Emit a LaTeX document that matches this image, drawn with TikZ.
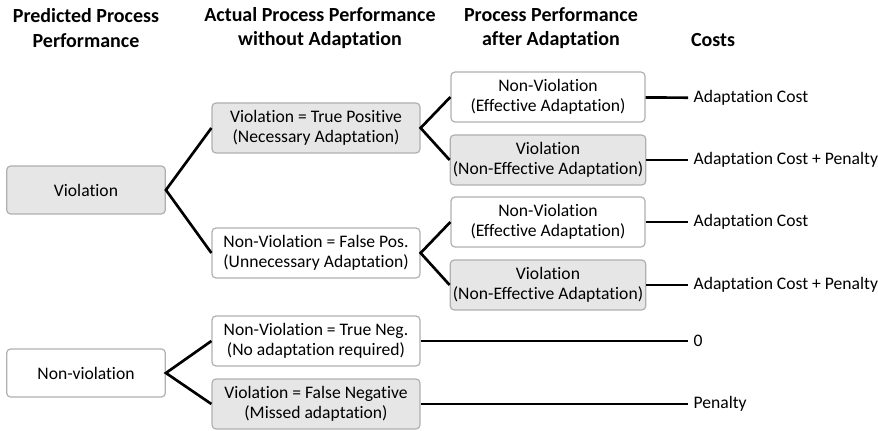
\documentclass[tikz,border=0pt]{standalone}
\usepackage{fontspec}
\setmainfont{Carlito}[Ligatures=NoCommon]
\usetikzlibrary{positioning}

\definecolor{boxgray}{HTML}{E6E6E6}
\definecolor{boxline}{HTML}{B0B0B0}

\begin{document}
\begin{tikzpicture}[
    x=0.75pt, y=-0.75pt,
    every node/.style={font=\fontsize{13.2}{14.6}\selectfont},
    outcome/.style={draw=boxline, line width=0.9pt, rounded corners=3pt,
      align=center, inner sep=2pt},
    violated/.style={outcome, fill=boxgray},
    kept/.style={outcome, fill=white},
    predbox/.style={minimum width=119pt, minimum height=36pt},
    actbox/.style={minimum width=156pt, minimum height=37.5pt},
    adaptbox/.style={minimum width=145.5pt, minimum height=37.5pt},
    heading/.style={font=\bfseries\fontsize{15}{18.5}\selectfont, align=center},
    cost/.style={anchor=west, inner xsep=4pt, inner ysep=0pt},
    branch/.style={line width=2pt},
  ]
  \useasboundingbox (0,0) rectangle (878,431);

  % column headings
  \node[heading] (hpred)  at (86,28)  {Predicted Process\\Performance};
  \node[heading] (hactual) at (320,28) {Actual Process Performance\\without Adaptation};
  \node[heading] (hafter) at (551,28) {Process Performance\\after Adaptation};
  \node[heading] (hcost)  at (713,40) {Costs};

  % predicted outcome
  \node[violated, predbox] (pviol) at (86,190) {Violation};
  \node[kept, predbox]     (pok)   at (86,373) {Non-violation};

  % actual outcome without adaptation
  \node[violated, actbox] (tp) at (316,128) {Violation = True Positive\\(Necessary Adaptation)};
  \node[kept, actbox]     (fp) at (316,253) {Non-Violation = False Pos.\\(Unnecessary Adaptation)};
  \node[kept, actbox]     (tn) at (316,341) {Non-Violation = True Neg.\\(No adaptation required)};
  \node[violated, actbox] (fn) at (316,404) {Violation = False Negative\\(Missed adaptation)};

  % outcome after adaptation
  \node[kept, adaptbox]     (tpok)   at (548,97)  {Non-Violation\\(Effective Adaptation)};
  \node[violated, adaptbox] (tpviol) at (548,160) {Violation\\(Non-Effective Adaptation)};
  \node[kept, adaptbox]     (fpok)   at (548,222) {Non-Violation\\(Effective Adaptation)};
  \node[violated, adaptbox] (fpviol) at (548,285) {Violation\\(Non-Effective Adaptation)};

  % costs
  \node[cost] (ctpok)   at (688,98)  {Adaptation Cost};
  \node[cost] (ctpviol) at (688,160) {Adaptation Cost + Penalty};
  \node[cost] (cfpok)   at (688,222) {Adaptation Cost};
  \node[cost] (cfpviol) at (688,285) {Adaptation Cost + Penalty};
  \node[cost] (ctn)     at (688,341) {0};
  \node[cost] (cfn)     at (688,404) {Penalty};

  % branches
  \draw[branch] (tp.west) -- (pviol.east) -- (fp.west);
  \draw[branch] (tn.west) -- (pok.east) -- (fn.west);
  \draw[branch] (tpok.west) -- (tp.east) -- (tpviol.west);
  \draw[branch] (fpok.west) -- (fp.east) -- (fpviol.west);

  \draw[branch] (tpok) -- (ctpok);
  \draw[branch] (tpviol) -- (ctpviol);
  \draw[branch] (fpok) -- (cfpok);
  \draw[branch] (fpviol) -- (cfpviol);
  \draw[branch] (tn) -- (ctn);
  \draw[branch] (fn) -- (cfn);
\end{tikzpicture}
\end{document}
